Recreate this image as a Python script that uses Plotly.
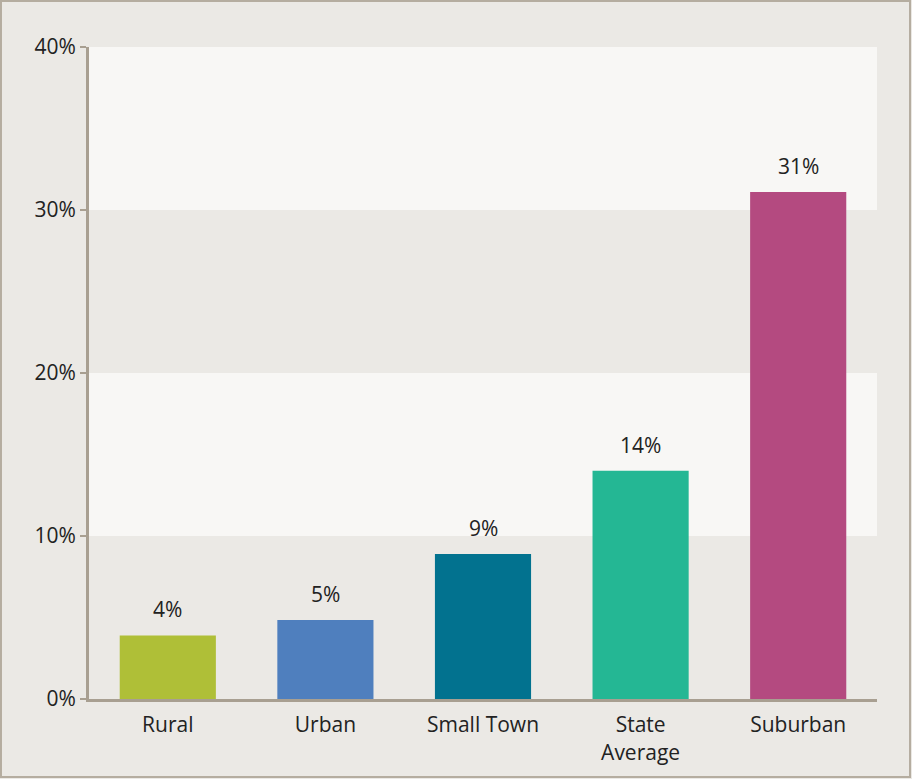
import plotly.graph_objects as go

categories = ["Rural", "Urban", "Small Town", "State<br>Average", "Suburban"]
values = [3.9, 4.85, 8.9, 14.0, 31.1]
value_labels = ["4%", "5%", "9%", "14%", "31%"]
bar_colors = ["#afbf37", "#4f7fbe", "#02728f", "#24b794", "#b44a80"]

bg = "#ebe9e5"
band = "#f8f7f5"
axis_col = "#a89f91"
font = dict(family="Open Sans", size=21, color="#222222")

fig = go.Figure(go.Bar(
    x=categories,
    y=values,
    marker=dict(color=bar_colors, line=dict(width=0)),
    width=0.61,
    hoverinfo="skip",
))

for x, y, t in zip(categories, values, value_labels):
    fig.add_annotation(x=x, y=y, text=t, showarrow=False,
                       yanchor="bottom", yshift=10, font=font)

# lighter bands 10-20 and 30-40
for lo, hi in [(10, 20), (30, 40)]:
    fig.add_shape(type="rect", xref="paper", yref="y", x0=0, x1=1, y0=lo, y1=hi,
                  fillcolor=band, line_width=0, layer="below")

# outer frame
fig.add_shape(type="rect", xref="paper", yref="paper",
              x0=-0.1117, x1=1.0419, y0=-0.1196, y1=1.0706,
              line=dict(color="#b5ada0", width=2), fillcolor="rgba(0,0,0,0)")

fig.update_layout(
    width=912, height=779,
    margin=dict(l=89, r=35, t=47, b=80),
    paper_bgcolor=bg, plot_bgcolor=bg,
    font=font,
    showlegend=False,
)
fig.update_yaxes(range=[0, 40], dtick=10, ticksuffix="%", showgrid=False,
                 zeroline=False, showline=True, linecolor=axis_col, linewidth=3,
                 ticks="outside", ticklen=6, tickwidth=2, tickcolor=axis_col,
                 tickfont=font)
fig.update_xaxes(showgrid=False, showline=True, linecolor=axis_col, linewidth=3,
                 ticks="outside", ticklen=5, tickcolor="rgba(0,0,0,0)",
                 tickfont=font)

fig.write_html("out.html", config={"displayModeBar": False},
               post_script="document.body.style.margin='0';")
